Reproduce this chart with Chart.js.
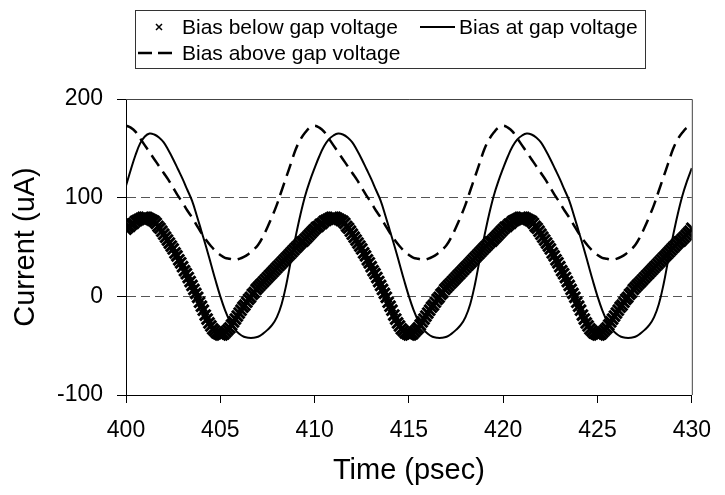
<!DOCTYPE html>
<html><head><meta charset="utf-8">
<script src="https://cdn.jsdelivr.net/npm/chart.js@4/dist/chart.umd.min.js"></script>
<style>html,body{margin:0;padding:0;background:#fff;}</style>
</head><body>
<canvas id="c" width="725" height="495"></canvas>
<script>
const seriesNames = ["Bias below gap voltage", "Bias at gap voltage", "Bias above gap voltage"];
const xTitle = "Time (psec)";
const yTitle = "Current (uA)";
const xTicks = [400, 405, 410, 415, 420, 425, 430];
const yTicks = [-100, 0, 100, 200];

// sampling grids (psec)
const denseTimes = Array.from({length: 301}, (_, i) => +(400 + i * 0.1).toFixed(1));
const lineTimes = Array.from({length: 121}, (_, i) => 400 + i * 0.25);

// Bias below gap voltage (x markers), every 0.1 psec
const belowGap = [
  68,70,71,73,74,76,77,78,79,80, 80,80,79,78,77,76,74,71,69,66,
  63,60,57,54,51,48,44,41,37,34, 30,26,23,19,15,11,7,3,-1,-6,
  -10,-14,-19,-23,-27,-30,-33,-35,-37,-38, -39,-39,-38,-36,-34,-32,-29,-26,-23,-20,
  -17,-14,-11,-9,-6,-3,-1,2,4,7, 9,11,13,15,17,19,21,23,25,27,
  29,31,33,35,37,39,41,43,45,47, 49,51,53,55,56,58,60,62,64,66,
  68,70,71,73,74,76,77,78,79,80, 80,80,79,78,77,76,74,71,69,66,
  63,60,57,54,51,48,44,41,37,34, 30,26,23,19,15,11,7,3,-1,-6,
  -10,-14,-19,-23,-27,-30,-33,-35,-37,-38, -39,-39,-38,-36,-34,-32,-29,-26,-23,-20,
  -17,-14,-11,-9,-6,-3,-1,2,4,7, 9,11,13,15,17,19,21,23,25,27,
  29,31,33,35,37,39,41,43,45,47, 49,51,53,55,56,58,60,62,64,66,
  68,70,71,73,74,76,77,78,79,80, 80,80,79,78,77,76,74,71,69,66,
  63,60,57,54,51,48,44,41,37,34, 30,26,23,19,15,11,7,3,-1,-6,
  -10,-14,-19,-23,-27,-30,-33,-35,-37,-38, -39,-39,-38,-36,-34,-32,-29,-26,-23,-20,
  -17,-14,-11,-9,-6,-3,-1,2,4,7, 9,11,13,15,17,19,21,23,25,27,
  29,31,33,35,37,39,41,43,45,47, 49,51,53,55,56,58,60,62,64,66,
  69
];

// Bias at gap voltage (solid), every 0.25 psec
const atGap = [
  112,128,143,155,162,165,164,161,156,148,139,129,119,108,97,82,66,50,33,16,
  0,-14,-25,-33,-38,-41,-42,-42,-41,-38,-34,-29,-21,-8,12,37,61,83,102,117,
  130,142,152,159,163,165,164,161,156,148,139,129,119,108,97,82,66,50,33,16,
  0,-14,-25,-33,-38,-41,-42,-42,-41,-38,-34,-29,-21,-8,12,37,61,83,102,117,
  130,142,152,159,163,165,164,161,156,148,139,129,119,108,97,82,66,50,33,16,
  0,-14,-25,-33,-38,-41,-42,-42,-41,-38,-34,-29,-21,-8,12,37,61,83,102,117,
  130
];

// Bias above gap voltage (dashed), every 0.25 psec
const aboveGap = [
  173,171,167,160,153,146,139,132,125,118,110,102,95,87,80,72,64,57,51,46,
  42,39,38,37,38,40,43,47,52,60,70,81,93,107,121,135,149,159,166,171,
  173,171,167,160,153,146,139,132,125,118,110,102,95,87,80,72,64,57,51,46,
  42,39,38,37,38,40,43,47,52,60,70,81,93,107,121,135,149,159,166,171,
  173,171,167,160,153,146,139,132,125,118,110,102,95,87,80,72,64,57,51,46,
  42,39,38,37,38,40,43,47,52,60,70,81,93,107,121,135,149,159,166,171,
  172
];

const FONT = '"Liberation Sans", Arial, Helvetica, sans-serif';
const pts = (xs, ys) => xs.map((x, i) => ({x, y: ys[i]}));

const frame = {
  id: 'frame',
  afterDraw(chart) {
    const {ctx, chartArea: a} = chart;
    ctx.save();
    ctx.strokeStyle = '#444';
    ctx.lineWidth = 1;
    ctx.beginPath();
    ctx.moveTo(a.left, a.top + 0.5);
    ctx.lineTo(a.right + 0.5, a.top + 0.5);
    ctx.lineTo(a.right + 0.5, a.bottom);
    ctx.stroke();
    ctx.restore();
  }
};

const legendBox = {
  id: 'legendBox',
  afterDraw(chart) {
    const ctx = chart.ctx;
    ctx.save();
    ctx.strokeStyle = '#333';
    ctx.lineWidth = 1;
    ctx.strokeRect(135.5, 10.5, 510, 58);
    ctx.font = '21px ' + FONT;
    ctx.fillStyle = '#000';
    ctx.textBaseline = 'middle';
    ctx.textAlign = 'left';
    ctx.strokeStyle = '#000';
    ctx.lineWidth = 1.5;
    ctx.beginPath();
    ctx.moveTo(156, 24); ctx.lineTo(162, 30);
    ctx.moveTo(162, 24); ctx.lineTo(156, 30);
    ctx.stroke();
    ctx.fillText(seriesNames[0], 182, 28);
    ctx.lineWidth = 2;
    ctx.beginPath();
    ctx.moveTo(420, 27); ctx.lineTo(455, 27);
    ctx.stroke();
    ctx.fillText(seriesNames[1], 459, 28);
    ctx.lineWidth = 2.5;
    ctx.setLineDash([14, 6]);
    ctx.beginPath();
    ctx.moveTo(138, 53); ctx.lineTo(178, 53);
    ctx.stroke();
    ctx.setLineDash([]);
    ctx.fillText(seriesNames[2], 182, 54);
    ctx.restore();
  }
};

new Chart(document.getElementById('c'), {
  type: 'line',
  data: {
    datasets: [
      {
        label: seriesNames[0],
        data: pts(denseTimes, belowGap),
        showLine: false,
        pointStyle: 'crossRot',
        pointRadius: 7.5,
        pointBorderWidth: 3,
        borderColor: '#000',
        backgroundColor: '#000',
        pointHoverRadius: 7.5
      },
      {
        label: seriesNames[1],
        data: pts(lineTimes, atGap),
        borderColor: '#000',
        borderWidth: 2,
        pointRadius: 0,
        tension: 0.4,
        fill: false
      },
      {
        label: seriesNames[2],
        data: pts(lineTimes, aboveGap),
        borderColor: '#000',
        borderWidth: 2.5,
        borderDash: [13, 7],
        pointRadius: 0,
        tension: 0.4,
        fill: false
      }
    ]
  },
  options: {
    responsive: false,
    animation: false,
    devicePixelRatio: 1,
    layout: {padding: {left: 0, right: 25, top: 99, bottom: 0}},
    plugins: {legend: {display: false}, tooltip: {enabled: false}},
    scales: {
      x: {
        type: 'linear',
        min: 400, max: 430,
        afterFit(s) { s.height = 100; },
        afterBuildTicks(s) { s.ticks = xTicks.map(v => ({value: v})); },
        ticks: {font: {family: FONT, size: 23}, color: '#000', padding: 14, maxRotation: 0},
        grid: {drawOnChartArea: false, tickLength: 8, tickColor: '#000', color: '#000'},
        border: {display: true, color: '#000', width: 1},
        title: {display: true, text: xTitle, font: {family: FONT, size: 29}, color: '#000', padding: {top: 0, bottom: 7}}
      },
      y: {
        type: 'linear',
        min: -100, max: 200,
        afterFit(s) { s.width = 126; },
        afterBuildTicks(s) { s.ticks = yTicks.map(v => ({value: v})); },
        ticks: {font: {family: FONT, size: 23}, color: '#000', padding: 14},
        grid: {
          tickLength: 9,
          tickColor: '#000',
          color: (c) => (c.tick && (c.tick.value === 0 || c.tick.value === 100)) ? '#555' : 'rgba(0,0,0,0)',
          tickBorderDash: [],
          lineWidth: 1
        },
        border: {display: true, color: '#000', width: 1, dash: [9, 5]},
        title: {display: true, text: yTitle, font: {family: FONT, size: 29}, color: '#000', padding: {top: 9, bottom: 0}}
      }
    }
  },
  plugins: [frame, legendBox]
});
</script>
</body></html>
